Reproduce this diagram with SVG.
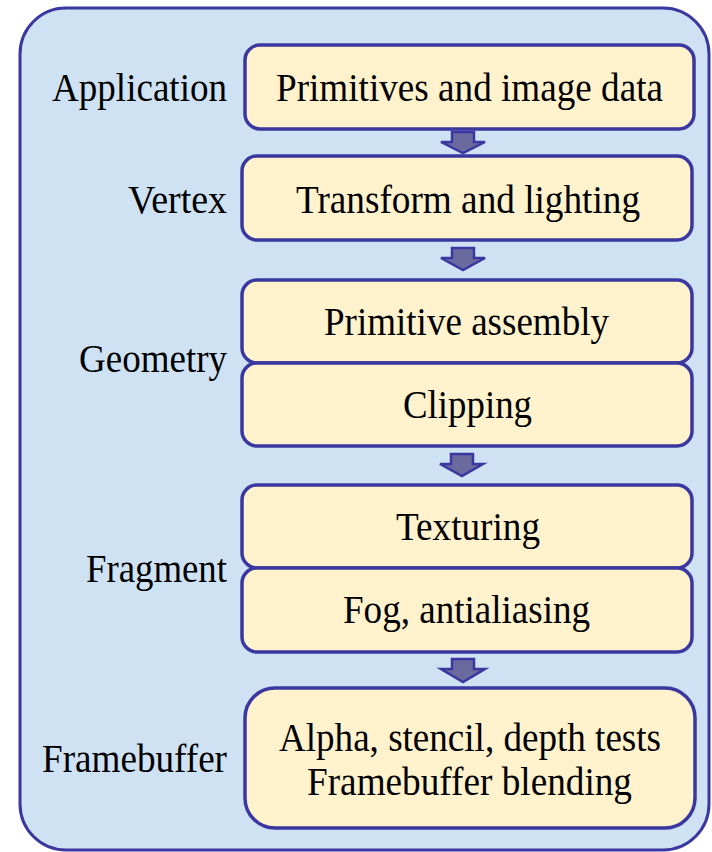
<svg xmlns="http://www.w3.org/2000/svg" width="712" height="852" viewBox="0 0 712 852">
<defs>
<style>
.outer{fill:#cfe2f3;stroke:#3b37a0;stroke-width:3}
.box{fill:#fff2cc;stroke:#3b37a0;stroke-width:3.5}
.arr{fill:#6b6a9e;stroke:#3b37a0;stroke-width:2.5;stroke-linejoin:miter}
.t{font-family:'Liberation Serif','Times New Roman',Times,serif;font-size:40px;fill:#000}
.c{text-anchor:middle}
.r{text-anchor:end}
</style>
</defs>
<rect class="outer" x="20" y="8" width="689" height="842" rx="46" ry="46"/>
<g id="labels" class="t" font-family="Liberation Serif, serif">
<text class="r" x="227" y="101" textLength="175" lengthAdjust="spacingAndGlyphs">Application</text>
<text class="r" x="227" y="213" textLength="99" lengthAdjust="spacingAndGlyphs">Vertex</text>
<text class="r" x="227" y="372" textLength="148" lengthAdjust="spacingAndGlyphs">Geometry</text>
<text class="r" x="227" y="582" textLength="141" lengthAdjust="spacingAndGlyphs">Fragment</text>
<text class="r" x="227" y="772" textLength="185" lengthAdjust="spacingAndGlyphs">Framebuffer</text>
</g>
<g id="connectors">
<path class="arr" d="M452,132 H474 V142 H485 L463,153 L441,142 H452 Z"/>
<path class="arr" d="M452,248 H474 V258 H485 L463,270 L441,258 H452 Z"/>
<path class="arr" d="M451,454 H473 V464 H483 L462,476 L440,464 H451 Z"/>
<path class="arr" d="M452,659 H474 V669 H485 L463,682 L441,669 H452 Z"/>
</g>
<g id="nodes" class="t" font-family="Liberation Serif, serif">
<g id="n1"><rect class="box" x="245" y="45" width="449" height="84" rx="15"/>
<text class="c" x="469.5" y="101" textLength="387" lengthAdjust="spacingAndGlyphs">Primitives and image data</text></g>
<g id="n2"><rect class="box" x="242" y="156" width="450" height="84" rx="15"/>
<text class="c" x="468" y="213" textLength="344" lengthAdjust="spacingAndGlyphs">Transform and lighting</text></g>
<g id="n3"><rect class="box" x="242" y="280" width="450" height="83" rx="15"/>
<text class="c" x="466.5" y="335" textLength="285" lengthAdjust="spacingAndGlyphs">Primitive assembly</text></g>
<g id="n4"><rect class="box" x="242" y="363" width="450" height="83" rx="15"/>
<text class="c" x="467.5" y="418" textLength="129" lengthAdjust="spacingAndGlyphs">Clipping</text></g>
<g id="n5"><rect class="box" x="242" y="485" width="450" height="83" rx="15"/>
<text class="c" x="468" y="540" textLength="144" lengthAdjust="spacingAndGlyphs">Texturing</text></g>
<g id="n6"><rect class="box" x="242" y="568" width="450" height="84" rx="15"/>
<text class="c" x="466.5" y="623" textLength="247" lengthAdjust="spacingAndGlyphs">Fog, antialiasing</text></g>
<g id="n7"><rect class="box" x="245" y="688" width="450" height="140" rx="30"/>
<text class="c" x="470" y="751" textLength="382" lengthAdjust="spacingAndGlyphs">Alpha, stencil, depth tests</text>
<text class="c" x="469.5" y="795" textLength="325" lengthAdjust="spacingAndGlyphs">Framebuffer blending</text></g>
</g>
</svg>
